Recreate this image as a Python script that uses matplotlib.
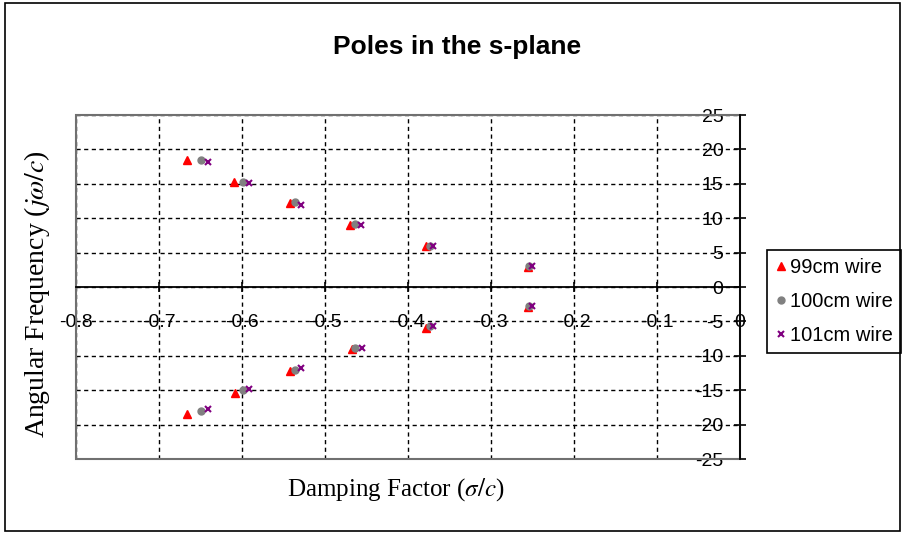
import numpy as np
import matplotlib
matplotlib.use('Agg')
import matplotlib.pyplot as plt
from matplotlib.patches import Rectangle

# poles (sigma/c, omega/c)
sigma99 = [-0.666, -0.610, -0.542, -0.470, -0.378, -0.256,
           -0.256, -0.378, -0.468, -0.542, -0.609, -0.666]
omega99 = [18.4, 15.3, 12.2, 9.0, 6.0, 2.9,
           -2.9, -5.9, -9.0, -12.2, -15.35, -18.45]
sigma100 = [-0.650, -0.599, -0.536, -0.464, -0.374, -0.254,
            -0.254, -0.374, -0.464, -0.536, -0.599, -0.650]
omega100 = [18.4, 15.3, 12.3, 9.1, 6.0, 3.0,
            -2.8, -5.7, -8.9, -12.0, -15.0, -18.0]
sigma101 = [-0.641, -0.592, -0.529, -0.457, -0.370, -0.251,
            -0.251, -0.370, -0.456, -0.529, -0.592, -0.641]
omega101 = [18.1, 15.1, 11.9, 9.0, 5.9, 3.0,
            -2.8, -5.6, -8.85, -11.7, -14.75, -17.8]

labels = ['99cm wire', '100cm wire', '101cm wire']
xticks = [-0.8, -0.7, -0.6, -0.5, -0.4, -0.3, -0.2, -0.1, 0]
xticklabels = ['-0.8', '-0.7', '-0.6', '-0.5', '-0.4', '-0.3', '-0.2', '-0.1', '0']
yticks = [-25, -20, -15, -10, -5, 0, 5, 10, 15, 20, 25]

plt.rcParams['mathtext.fontset'] = 'stix'
plt.rcParams['font.family'] = ['Liberation Sans', 'DejaVu Sans']

fig = plt.figure(figsize=(9.04, 5.34), dpi=100)
ax = fig.add_axes([0.0841, 0.1404, 0.7345, 0.6442])

ax.plot(sigma99, omega99, linestyle='none', marker='^', color='#ff0000',
        markersize=6, label=labels[0])
ax.plot(sigma100, omega100, linestyle='none', marker='o', color='#808080',
        markersize=5, label=labels[1])
ax.plot(sigma101, omega101, linestyle='none', marker='x', color='#800080',
        markersize=5, markeredgewidth=1.5, label=labels[2])

ax.set_xlim(-0.8, 0)
ax.set_ylim(-25, 25)
ax.set_xticks(xticks)
ax.set_xticklabels(xticklabels)
ax.set_yticks(yticks)
ax.set_yticklabels([str(v) for v in yticks])

ax.grid(True, color='black', linestyle=(0, (3, 2.5)), linewidth=1)
ax.set_axisbelow(True)

ax.spines['left'].set_position(('data', 0))
ax.spines['bottom'].set_position(('data', 0))
ax.spines['top'].set_visible(False)
ax.spines['right'].set_visible(False)
for s in ['left', 'bottom']:
    ax.spines[s].set_color('black')
    ax.spines[s].set_linewidth(1.3)
ax.add_patch(Rectangle((0, 0), 1, 1, transform=ax.transAxes, fill=False,
                       edgecolor='#707070', linewidth=1.5, clip_on=False))

ax.tick_params(axis='x', direction='inout', length=7, pad=16, width=1.2,
               labelsize=14)
ax.tick_params(axis='y', direction='inout', length=8, pad=8, width=1.2,
               labelsize=14)

ax.set_xlabel(r'Damping Factor ($\sigma/c$)', family='Liberation Serif', fontsize=18)
ax.xaxis.set_label_coords(0.482, -0.05)
ax.set_ylabel(r'Angular Frequency ($j\omega/c$)', family='Liberation Serif', fontsize=20)
ax.yaxis.set_label_coords(-0.036, 0.48)

fig.text(0.5055, 0.912, 'Poles in the s-plane', fontsize=19,
         fontweight='bold', ha='center', va='center')

leg = ax.legend(loc='upper left', bbox_to_anchor=(0.849, 0.532),
                bbox_transform=fig.transFigure, borderaxespad=0,
                fancybox=False, edgecolor='black', framealpha=1,
                handlelength=0.5, handletextpad=0.2, borderpad=0.4,
                labelspacing=0.75, prop={'size': 14.5})
leg.get_frame().set_linewidth(1.2)

fig.patches.append(Rectangle((0.0055, 0.0056), 0.990, 0.9888,
                             transform=fig.transFigure, fill=False,
                             edgecolor='black', linewidth=1.2))

fig.savefig('out.png', dpi=100)
